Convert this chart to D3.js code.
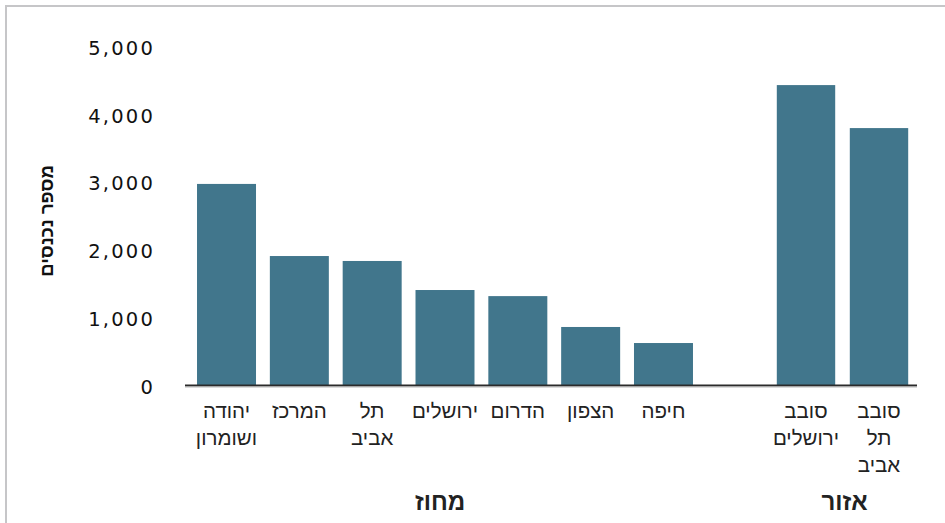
<!DOCTYPE html>
<html><head><meta charset="utf-8">
<script src="https://cdn.jsdelivr.net/npm/d3@7/dist/d3.min.js"></script>
<style>
html,body{margin:0;padding:0;background:#fff;overflow:hidden;}
svg{display:block;}
</style></head>
<body>
<svg id="c" width="945" height="523"></svg>
<script>
// Data
const districts = ["יהודה ושומרון","המרכז","תל אביב","ירושלים","הדרום","הצפון","חיפה"];
const districtValues = [2970, 1905, 1832, 1403, 1313, 857, 620];
const regions = ["סובב ירושלים","סובב תל אביב"];
const regionValues = [4430, 3795];
const yTicks = [0, 1000, 2000, 3000, 4000, 5000];
const yTitle = "מספר נכנסים";
const districtTitle = "מחוז";
const regionTitle = "אזור";

const barColor = "#41768c";
const hebFont = "'Liberation Sans', Arial, sans-serif";
const numFont = "'DejaVu Sans', sans-serif";

const svg = d3.select("#c");

// frame
svg.append("rect").attr("x",6).attr("y",6).attr("width",960).attr("height",540)
  .attr("fill","none").attr("stroke","#c6c6c8").attr("stroke-width",2);

const y = d3.scaleLinear().domain([0,5000]).range([385,46.5]);

const xD = d3.scaleBand().domain(districts).range([190.1,699.9]).paddingInner(0.19).paddingOuter(0.095);
const xR = d3.scaleBand().domain(regions).range([769.5,915.5]).paddingInner(0.2).paddingOuter(0.1);

// y tick labels
svg.append("g").selectAll("text").data(yTicks).join("text")
  .attr("x",155).attr("y",d=>y(d)+2)
  .attr("text-anchor","end").attr("dominant-baseline","central")
  .attr("font-family",numFont).attr("font-size",19.5).attr("letter-spacing","2.2px")
  .attr("fill","#111")
  .text(d=>d3.format(",")(d));

// y title
svg.append("text")
  .attr("transform",`translate(46,221) rotate(-90)`)
  .attr("text-anchor","middle").attr("dominant-baseline","central")
  .attr("font-family",hebFont).attr("font-weight","bold").attr("font-size",18.5)
  .attr("fill","#111").attr("direction","rtl")
  .text(yTitle);

// bars
svg.append("g").selectAll("rect").data(districts).join("rect")
  .attr("x",d=>xD(d)).attr("width",xD.bandwidth())
  .attr("y",(d,i)=>y(districtValues[i])).attr("height",(d,i)=>y(0)-y(districtValues[i]))
  .attr("fill",barColor);
svg.append("g").selectAll("rect").data(regions).join("rect")
  .attr("x",d=>xR(d)).attr("width",xR.bandwidth())
  .attr("y",(d,i)=>y(regionValues[i])).attr("height",(d,i)=>y(0)-y(regionValues[i]))
  .attr("fill",barColor);

// baseline
svg.append("line").attr("x1",185).attr("x2",917).attr("y1",y(0)+0.5).attr("y2",y(0)+0.5)
  .attr("stroke","#2b2b2b").attr("stroke-width",2);
svg.append("line").attr("x1",185).attr("x2",917).attr("y1",y(0)+2).attr("y2",y(0)+2)
  .attr("stroke","#b8b8b8").attr("stroke-width",1);

// category labels
function catLabels(scale, cats){
  const g = svg.append("g");
  cats.forEach(c=>{
    const t = g.append("text")
      .attr("x", scale(c)+scale.bandwidth()/2).attr("y",418)
      .attr("text-anchor","middle").attr("direction","rtl")
      .attr("font-family",hebFont).attr("font-size",20.5).attr("fill","#222");
    c.split(" ").forEach((w,i)=>{
      t.append("tspan").attr("x",scale(c)+scale.bandwidth()/2).attr("dy",i===0?0:27).text(w);
    });
  });
}
catLabels(xD, districts);
catLabels(xR, regions);

// group titles
svg.append("text").attr("x",(xD(districts[0])+xD(districts[districts.length-1])+xD.bandwidth())/2-5).attr("y",510)
  .attr("text-anchor","middle").attr("direction","rtl")
  .attr("font-family",hebFont).attr("font-weight","bold").attr("font-size",24).attr("fill","#222")
  .text(districtTitle);
svg.append("text").attr("x",(xR(regions[0])+xR(regions[regions.length-1])+xR.bandwidth())/2+2).attr("y",510)
  .attr("text-anchor","middle").attr("direction","rtl")
  .attr("font-family",hebFont).attr("font-weight","bold").attr("font-size",24).attr("fill","#222")
  .text(regionTitle);
</script>
</body></html>
